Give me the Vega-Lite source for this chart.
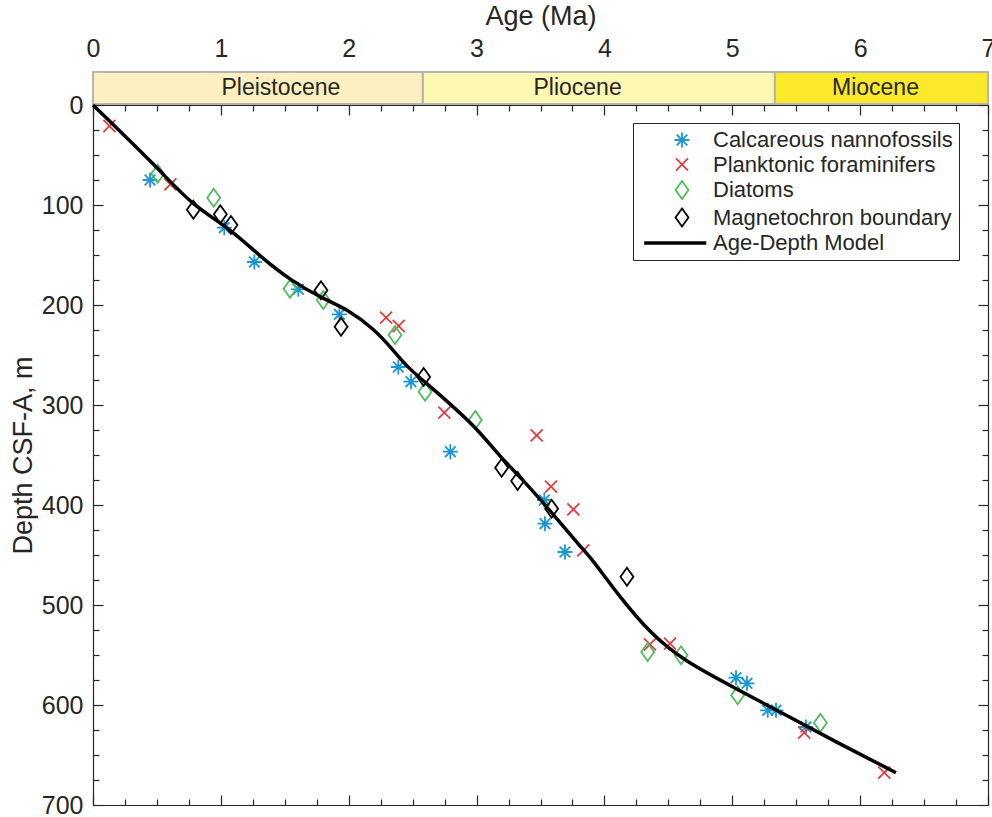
{
  "$schema": "https://vega.github.io/schema/vega-lite/v6.json",
  "padding": {"left": 9, "top": 2, "right": 0, "bottom": 0},
  "background": "white",
  "bounds": "flush",
  "resolve": {
    "scale": {"x": "independent", "y": "independent", "color": "independent", "shape": "independent"},
    "axis": {"x": "independent", "y": "independent"},
    "legend": {"color": "independent", "shape": "independent"}
  },
  "config": {
    "view": {"stroke": null},
    "font": "Liberation Sans",
    "axis": {
      "grid": false,
      "labelFont": "Liberation Sans",
      "labelFontSize": 25,
      "labelColor": "#262626",
      "titleFont": "Liberation Sans",
      "titleFontSize": 27,
      "titleFontWeight": "normal",
      "titleColor": "#262626",
      "tickColor": "#262626",
      "domainColor": "#262626",
      "tickWidth": 1.2,
      "domainWidth": 1.2,
      "labelFlush": false,
      "labelOverlap": false
    }
  },
  "datasets": {
    "epochs": [
      {"epoch": "Pleistocene", "start": 0, "end": 2.58, "label_x": 1.47},
      {"epoch": "Pliocene", "start": 2.58, "end": 5.333, "label_x": 3.79},
      {"epoch": "Miocene", "start": 5.333, "end": 7, "label_x": 6.12}
    ],
    "points": [
      {"type": "Calcareous nannofossils", "age": 0.446, "depth": 75},
      {"type": "Calcareous nannofossils", "age": 1.027, "depth": 122.7},
      {"type": "Calcareous nannofossils", "age": 1.262, "depth": 157},
      {"type": "Calcareous nannofossils", "age": 1.606, "depth": 184.3},
      {"type": "Calcareous nannofossils", "age": 1.927, "depth": 209.3},
      {"type": "Calcareous nannofossils", "age": 2.388, "depth": 262},
      {"type": "Calcareous nannofossils", "age": 2.487, "depth": 276.7},
      {"type": "Calcareous nannofossils", "age": 2.795, "depth": 346.7},
      {"type": "Calcareous nannofossils", "age": 3.53, "depth": 395},
      {"type": "Calcareous nannofossils", "age": 3.535, "depth": 418.7},
      {"type": "Calcareous nannofossils", "age": 3.691, "depth": 447},
      {"type": "Calcareous nannofossils", "age": 5.029, "depth": 572.7},
      {"type": "Calcareous nannofossils", "age": 5.115, "depth": 578.3},
      {"type": "Calcareous nannofossils", "age": 5.277, "depth": 605.3},
      {"type": "Calcareous nannofossils", "age": 5.342, "depth": 605.3},
      {"type": "Calcareous nannofossils", "age": 5.576, "depth": 622},
      {"type": "Planktonic foraminifers", "age": 0.128, "depth": 21},
      {"type": "Planktonic foraminifers", "age": 0.605, "depth": 79.3},
      {"type": "Planktonic foraminifers", "age": 2.292, "depth": 212.7},
      {"type": "Planktonic foraminifers", "age": 2.391, "depth": 221},
      {"type": "Planktonic foraminifers", "age": 2.748, "depth": 307.7},
      {"type": "Planktonic foraminifers", "age": 3.47, "depth": 330.3},
      {"type": "Planktonic foraminifers", "age": 3.582, "depth": 381.7},
      {"type": "Planktonic foraminifers", "age": 3.757, "depth": 404.3},
      {"type": "Planktonic foraminifers", "age": 3.835, "depth": 445.3},
      {"type": "Planktonic foraminifers", "age": 4.356, "depth": 539.3},
      {"type": "Planktonic foraminifers", "age": 4.513, "depth": 538.7},
      {"type": "Planktonic foraminifers", "age": 5.563, "depth": 627.7},
      {"type": "Planktonic foraminifers", "age": 6.189, "depth": 667.7},
      {"type": "Diatoms", "age": 0.506, "depth": 68.7},
      {"type": "Diatoms", "age": 0.944, "depth": 92.7},
      {"type": "Diatoms", "age": 1.541, "depth": 183.7},
      {"type": "Diatoms", "age": 1.801, "depth": 195},
      {"type": "Diatoms", "age": 2.362, "depth": 230},
      {"type": "Diatoms", "age": 2.597, "depth": 286.7},
      {"type": "Diatoms", "age": 2.99, "depth": 315},
      {"type": "Diatoms", "age": 4.338, "depth": 547},
      {"type": "Diatoms", "age": 4.599, "depth": 550.3},
      {"type": "Diatoms", "age": 5.042, "depth": 590.3},
      {"type": "Diatoms", "age": 5.689, "depth": 617.7},
      {"type": "Magnetochron boundary", "age": 0.785, "depth": 104.7},
      {"type": "Magnetochron boundary", "age": 0.996, "depth": 109.3},
      {"type": "Magnetochron boundary", "age": 1.079, "depth": 120},
      {"type": "Magnetochron boundary", "age": 1.783, "depth": 185.3},
      {"type": "Magnetochron boundary", "age": 1.94, "depth": 221.7},
      {"type": "Magnetochron boundary", "age": 2.586, "depth": 272},
      {"type": "Magnetochron boundary", "age": 3.196, "depth": 362.7},
      {"type": "Magnetochron boundary", "age": 3.321, "depth": 376},
      {"type": "Magnetochron boundary", "age": 3.587, "depth": 403.7},
      {"type": "Magnetochron boundary", "age": 4.176, "depth": 471.7}
    ],
    "model": [
      {"age": 0, "depth": 0},
      {"age": 0.506, "depth": 62.7},
      {"age": 0.766, "depth": 99.3},
      {"age": 1.079, "depth": 124.3},
      {"age": 1.288, "depth": 149.3},
      {"age": 1.549, "depth": 176},
      {"age": 1.809, "depth": 194.3},
      {"age": 1.992, "depth": 204.3},
      {"age": 2.2, "depth": 224.3},
      {"age": 2.331, "depth": 242.7},
      {"age": 2.461, "depth": 262.7},
      {"age": 2.618, "depth": 279.3},
      {"age": 2.826, "depth": 302.7},
      {"age": 3.008, "depth": 324.3},
      {"age": 3.191, "depth": 352.7},
      {"age": 3.347, "depth": 372.7},
      {"age": 3.556, "depth": 402.7},
      {"age": 3.83, "depth": 444.3},
      {"age": 3.895, "depth": 452.7},
      {"age": 4.103, "depth": 489.3},
      {"age": 4.364, "depth": 529.3},
      {"age": 4.625, "depth": 556},
      {"age": 5.016, "depth": 582.7},
      {"age": 5.407, "depth": 609.3},
      {"age": 5.798, "depth": 636},
      {"age": 6.28, "depth": 667.7}
    ]
  },
  "spacing": 1,
  "vconcat": [
    {
      "width": 895,
      "height": 32,
      "data": {"name": "epochs"},
      "layer": [
        {
          "mark": {"type": "rect", "stroke": "#b4b4b4", "strokeWidth": 2},
          "encoding": {
            "x": {
              "field": "start", "type": "quantitative",
              "scale": {"domain": [0, 7], "nice": false, "zero": false},
              "axis": {
                "orient": "top", "values": [0, 1, 2, 3, 4, 5, 6, 7],
                "ticks": false, "domain": false, "labelPadding": 11,
                "title": "Age (Ma)", "titlePadding": 6
              }
            },
            "x2": {"field": "end"},
            "color": {
              "field": "epoch", "type": "nominal",
              "scale": {"domain": ["Pleistocene", "Pliocene", "Miocene"], "range": ["#fdefbf", "#fef7b2", "#fce92a"]},
              "legend": null
            }
          }
        },
        {
          "mark": {"type": "text", "fontSize": 23, "font": "Liberation Sans", "color": "#262626"},
          "encoding": {
            "x": {
              "field": "label_x", "type": "quantitative",
              "axis": {
                "orient": "top", "values": [0, 1, 2, 3, 4, 5, 6, 7],
                "ticks": false, "domain": false, "labelPadding": 11,
                "title": "Age (Ma)", "titlePadding": 6
              }
            },
            "text": {"field": "epoch"}
          }
        }
      ]
    },
    {
      "width": 895,
      "height": 700,
      "resolve": {"axis": {"x": "independent", "y": "independent"}},
      "layer": [
        {
          "data": {"name": "points"},
          "mark": {"type": "point", "filled": false, "size": 324, "strokeWidth": 1.8, "opacity": 1},
          "encoding": {
            "x": {
              "field": "age", "type": "quantitative",
              "scale": {"domain": [0, 7], "nice": false, "zero": false},
              "axis": {"orient": "bottom", "values": [0, 1, 2, 3, 4, 5, 6, 7], "labels": false, "tickSize": -10, "title": null}
            },
            "y": {
              "field": "depth", "type": "quantitative",
              "scale": {"domain": [0, 700], "nice": false, "reverse": true},
              "axis": {"orient": "left", "values": [0, 100, 200, 300, 400, 500, 600, 700], "tickSize": -10, "labelPadding": 20, "title": "Depth CSF-A, m", "titlePadding": 4}
            },
            "color": {
              "field": "type", "type": "nominal",
              "scale": {
                "domain": ["Calcareous nannofossils", "Planktonic foraminifers", "Diatoms", "Magnetochron boundary", "Age-Depth Model"],
                "range": ["#1a96d4", "#e03c3c", "#4dbd5a", "#000000", "#000000"]
              },
              "legend": {
                "title": null, "orient": "none", "legendX": 540, "legendY": 18,
                "padding": 6, "strokeColor": "#262626", "fillColor": "white",
                "labelFont": "Liberation Sans", "labelFontSize": 22, "labelColor": "#262626",
                "symbolSize": 324, "symbolStrokeWidth": 1.8, "symbolOffset": 32, "labelOffset": 20,
                "rowPadding": 1.5, "labelLimit": 400
              }
            },
            "shape": {
              "field": "type", "type": "nominal",
              "scale": {
                "domain": ["Calcareous nannofossils", "Planktonic foraminifers", "Diatoms", "Magnetochron boundary", "Age-Depth Model"],
                "range": [
                  "M-0.83,0L0.83,0M0,-0.83L0,0.83M-0.59,-0.59L0.59,0.59M-0.59,0.59L0.59,-0.59",
                  "M-0.67,-0.67L0.67,0.67M-0.67,0.67L0.67,-0.67",
                  "M0,-1L0.72,0L0,1L-0.72,0Z",
                  "M0,-1L0.72,0L0,1L-0.72,0Z",
                  "M-4.1,-0.1L2.6,-0.1L2.6,0.1L-4.1,0.1Z"
                ]
              }
            }
          }
        },
        {
          "data": {"name": "model"},
          "mark": {"type": "line", "color": "#000000", "strokeWidth": 3.5, "interpolate": "basis"},
          "encoding": {
            "x": {
              "field": "age", "type": "quantitative",
              "axis": {"orient": "top", "values": [0, 1, 2, 3, 4, 5, 6, 7], "labels": false, "tickSize": -10, "title": null}
            },
            "y": {
              "field": "depth", "type": "quantitative",
              "axis": {"orient": "right", "values": [0, 100, 200, 300, 400, 500, 600, 700], "labels": false, "tickSize": -10, "title": null}
            }
          }
        },
        {
          "data": {"name": "model"},
          "mark": {"type": "line", "opacity": 0},
          "encoding": {
            "x": {
              "field": "age", "type": "quantitative",
              "axis": {"orient": "bottom", "values": [0.25, 0.5, 0.75, 1.25, 1.5, 1.75, 2.25, 2.5, 2.75, 3.25, 3.5, 3.75, 4.25, 4.5, 4.75, 5.25, 5.5, 5.75, 6.25, 6.5, 6.75], "labels": false, "domain": false, "tickSize": -6, "title": null}
            },
            "y": {
              "field": "depth", "type": "quantitative",
              "axis": {"orient": "left", "values": [25, 50, 75, 125, 150, 175, 225, 250, 275, 325, 350, 375, 425, 450, 475, 525, 550, 575, 625, 650, 675], "labels": false, "domain": false, "tickSize": -6, "title": null}
            }
          }
        },
        {
          "data": {"name": "model"},
          "mark": {"type": "line", "opacity": 0},
          "encoding": {
            "x": {
              "field": "age", "type": "quantitative",
              "axis": {"orient": "top", "values": [0.25, 0.5, 0.75, 1.25, 1.5, 1.75, 2.25, 2.5, 2.75, 3.25, 3.5, 3.75, 4.25, 4.5, 4.75, 5.25, 5.5, 5.75, 6.25, 6.5, 6.75], "labels": false, "domain": false, "tickSize": -6, "title": null}
            },
            "y": {
              "field": "depth", "type": "quantitative",
              "axis": {"orient": "right", "values": [25, 50, 75, 125, 150, 175, 225, 250, 275, 325, 350, 375, 425, 450, 475, 525, 550, 575, 625, 650, 675], "labels": false, "domain": false, "tickSize": -6, "title": null}
            }
          }
        }
      ]
    }
  ]
}
